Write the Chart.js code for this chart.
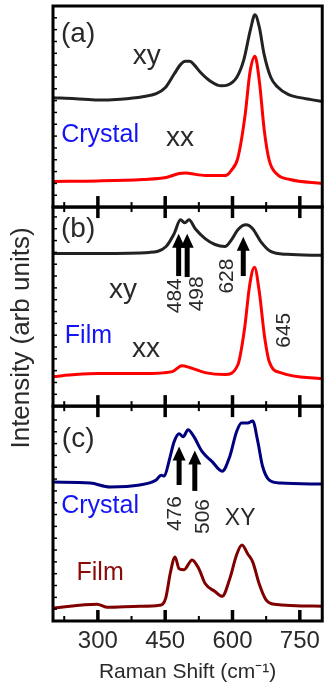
<!DOCTYPE html>
<html>
<head>
<meta charset="utf-8">
<script src="https://cdn.jsdelivr.net/npm/chart.js@4.4.1/dist/chart.umd.min.js"></script>
<style>
  html, body { margin: 0; padding: 0; background: #fff; }
  #wrap { position: relative; width: 328px; height: 685px; }
</style>
</head>
<body>
<div id="wrap"><canvas id="raman" width="328" height="685"></canvas></div>
<script>
// Raman shift axis
const xTicks = [300, 450, 600, 750];
const xMinorTicks = [225, 375, 525, 675];

// (a) crystal, xy and xx
const crystalXyShift = [200, 250, 300, 350, 400, 430, 450, 470, 485, 495, 505, 515, 530, 550, 575, 590, 610, 625, 640, 650, 660, 670, 685, 700, 725, 750, 775, 800];
const crystalXyInt = [111, 110, 108.5, 109.5, 112, 115, 121, 135, 145, 148, 148, 144, 136, 128, 123, 124, 132, 149, 180, 195, 182, 156, 132, 122, 114, 111, 109, 107];
const crystalXxShift = [200, 300, 400, 452, 481, 495, 505, 540, 584, 597, 612, 628, 639, 650, 660, 671, 682, 700, 728, 800];
const crystalXxInt = [26, 26.5, 28, 30, 34, 34.5, 34, 32, 32, 37, 50, 93, 137, 153, 127, 77, 47, 33, 28, 24];

// (b) film, xy and xx
const filmXyShift = [200, 305, 415, 452, 470, 484, 494, 503, 517, 539, 561, 583, 598, 612, 630, 645, 663, 685, 722, 800];
const filmXyInt = [155, 155, 156, 162, 175, 189, 186, 189, 180, 170, 164, 162, 169, 179, 184, 180, 167, 157, 154, 153];
const filmXxShift = [200, 250, 300, 400, 466, 487, 506, 539, 583, 612, 627, 638, 649, 660, 671, 682, 707, 800];
const filmXxInt = [30, 32, 33, 33, 35, 41, 39, 34, 32, 42, 79, 122, 141, 115, 72, 45, 34, 28];

// (c) XY, crystal and film
const crystalXYShift = [200, 283, 327, 393, 430, 441, 448, 459, 470, 481, 490, 501, 514, 532, 554, 577, 594, 609, 620, 634, 645, 656, 667, 682, 707, 800];
const crystalXYInt = [141, 140, 136, 138, 143, 148, 147, 163, 182, 190, 187, 194, 187, 172, 162, 152, 167, 192, 201, 201, 203, 183, 157, 143, 140, 139];
const filmXYShift = [200, 298, 320, 393, 437, 451, 462, 472, 481, 492, 510, 525, 539, 561, 577, 594, 609, 621, 634, 645, 660, 674, 693, 800];
const filmXYInt = [13, 17, 14, 15, 16, 23, 50, 65, 53, 52, 62, 53, 38, 30, 25, 43, 67, 77, 68, 60, 37, 22, 17, 15];

const TEXT = '#2a2a2a';
const BLUE = '#1414f5';
const MAROON = '#8b0a0a';

const pts = (xs, ys) => xs.map((x, i) => ({ x: x, y: ys[i] }));

function series(xs, ys, color, axis) {
  return {
    data: pts(xs, ys),
    yAxisID: axis,
    borderColor: color,
    borderWidth: 3,
    pointRadius: 0,
    fill: false,
    cubicInterpolationMode: 'monotone'
  };
}

// labels and arrows, placed in each panel's own units
const notes = [
  { panel: 'ya', text: '(a)', x: 256, y: 167, size: 28 },
  { panel: 'ya', text: 'xy', x: 409, y: 145, size: 28 },
  { panel: 'ya', text: 'Crystal', x: 305, y: 66, size: 25, color: BLUE },
  { panel: 'ya', text: 'xx', x: 483, y: 62, size: 28 },
  { panel: 'yb', text: '(b)', x: 256, y: 172, size: 28 },
  { panel: 'yb', text: 'xy', x: 356, y: 110, size: 28 },
  { panel: 'yb', text: 'Film', x: 279, y: 64, size: 25, color: BLUE },
  { panel: 'yb', text: 'xx', x: 407, y: 50, size: 28 },
  { panel: 'yb', text: '484', x: 472, y: 112, size: 21, rot: true },
  { panel: 'yb', text: '498', x: 521, y: 114, size: 21, rot: true },
  { panel: 'yb', text: '628', x: 589, y: 132, size: 21, rot: true },
  { panel: 'yb', text: '645', x: 716, y: 77, size: 21, rot: true },
  { panel: 'yc', text: '(c)', x: 256, y: 177, size: 28 },
  { panel: 'yc', text: 'Crystal', x: 305, y: 110, size: 25, color: BLUE },
  { panel: 'yc', text: 'Film', x: 305, y: 42, size: 25, color: MAROON },
  { panel: 'yc', text: '476', x: 472, y: 109, size: 21, rot: true },
  { panel: 'yc', text: '506', x: 534, y: 106, size: 21, rot: true },
  { panel: 'yc', text: 'XY', x: 617, y: 97, size: 23 }
];
const arrows = [
  { panel: 'yb', x: 480, from: 132, to: 175 },
  { panel: 'yb', x: 499, from: 131, to: 175 },
  { panel: 'yb', x: 624, from: 132, to: 172 },
  { panel: 'yc', x: 481, from: 138, to: 177 },
  { panel: 'yc', x: 516, from: 132, to: 173 }
];

function line(ctx, x1, y1, x2, y2, w) {
  ctx.lineWidth = w;
  ctx.beginPath();
  ctx.moveTo(x1, y1);
  ctx.lineTo(x2, y2);
  ctx.stroke();
}

const panelFrame = {
  id: 'panelFrame',
  afterDatasetsDraw(chart) {
    const ctx = chart.ctx;
    const x = chart.scales.x;
    ctx.save();
    ctx.strokeStyle = '#000';
    ctx.fillStyle = '#000';
    ['ya', 'yb', 'yc'].forEach((id, i) => {
      const y = chart.scales[id];
      ctx.lineWidth = 3;
      ctx.strokeRect(x.left, y.top, x.right - x.left, y.bottom - y.top);
      const edges = i === 0 ? [[y.bottom, -1]] : [[y.top, 1], [y.bottom, -1]];
      edges.forEach(([ey, dir]) => {
        xTicks.forEach(v => {
          const px = x.getPixelForValue(v);
          line(ctx, px, ey, px, ey + dir * 11, 3.5);
        });
        xMinorTicks.forEach(v => {
          const px = x.getPixelForValue(v);
          line(ctx, px, ey, px, ey + dir * 5, 2);
        });
      });
      for (let v = 12; v < y.max - 4; v += 12) {
        const py = y.getPixelForValue(v);
        line(ctx, x.left, py, x.left + 4, py, 1.5);
      }
    });

    arrows.forEach(a => {
      const y = chart.scales[a.panel];
      const px = x.getPixelForValue(a.x);
      const tail = y.getPixelForValue(a.from);
      const tip = y.getPixelForValue(a.to);
      line(ctx, px, tail, px, tip + 12, 5);
      ctx.beginPath();
      ctx.moveTo(px, tip);
      ctx.lineTo(px - 6.5, tip + 14);
      ctx.lineTo(px + 6.5, tip + 14);
      ctx.closePath();
      ctx.fill();
    });

    notes.forEach(n => {
      const y = chart.scales[n.panel];
      const px = x.getPixelForValue(n.x);
      const py = y.getPixelForValue(n.y);
      ctx.fillStyle = n.color || TEXT;
      ctx.font = n.size + 'px "Liberation Sans", Arial, sans-serif';
      ctx.save();
      ctx.translate(px, py);
      if (n.rot) {
        ctx.rotate(-Math.PI / 2);
        ctx.textAlign = 'center';
        ctx.textBaseline = 'middle';
      } else {
        ctx.textAlign = 'center';
        ctx.textBaseline = 'alphabetic';
      }
      ctx.fillText(n.text, 0, 0);
      ctx.restore();
    });

    // y title spans all three panels
    ctx.fillStyle = TEXT;
    ctx.font = '26px "Liberation Sans", Arial, sans-serif';
    ctx.translate(22, 338);
    ctx.rotate(-Math.PI / 2);
    ctx.textAlign = 'center';
    ctx.textBaseline = 'middle';
    ctx.fillText('Intensity (arb units)', 0, 0);
    ctx.restore();
  }
};

function panelAxis(max, weight) {
  return {
    type: 'linear',
    position: 'left',
    stack: 'panels',
    stackWeight: max,
    weight: weight,
    min: 0,
    max: max,
    grid: { display: false, drawTicks: false },
    border: { display: false },
    ticks: { display: false }
  };
}

new Chart(document.getElementById('raman'), {
  type: 'line',
  data: {
    datasets: [
      series(crystalXyShift, crystalXyInt, '#222222', 'ya'),
      series(crystalXxShift, crystalXxInt, '#ff0000', 'ya'),
      series(filmXyShift, filmXyInt, '#222222', 'yb'),
      series(filmXxShift, filmXxInt, '#ff0000', 'yb'),
      series(crystalXYShift, crystalXYInt, '#00007f', 'yc'),
      series(filmXYShift, filmXYInt, '#800000', 'yc')
    ]
  },
  options: {
    responsive: false,
    animation: false,
    events: [],
    layout: { padding: { left: 53, right: 2, top: 6, bottom: 0 } },
    plugins: { legend: { display: false }, tooltip: { enabled: false } },
    scales: {
      x: {
        type: 'linear',
        min: 200,
        max: 800,
        afterBuildTicks: axis => { axis.ticks = xTicks.map(v => ({ value: v })); },
        grid: { display: false, drawTicks: false },
        border: { display: false },
        ticks: {
          color: TEXT,
          padding: 8,
          maxRotation: 0,
          font: { family: '"Liberation Sans", Arial, sans-serif', size: 24, lineHeight: 1 }
        },
        title: {
          display: true,
          text: 'Raman Shift (cm⁻¹)',
          color: TEXT,
          padding: { top: 1, bottom: 2 },
          font: { family: '"Liberation Sans", Arial, sans-serif', size: 21, lineHeight: 1 }
        }
      },
      ya: panelAxis(204, 3),
      yb: panelAxis(202, 2),
      yc: panelAxis(218, 1)
    }
  },
  plugins: [panelFrame]
});
</script>
</body>
</html>
